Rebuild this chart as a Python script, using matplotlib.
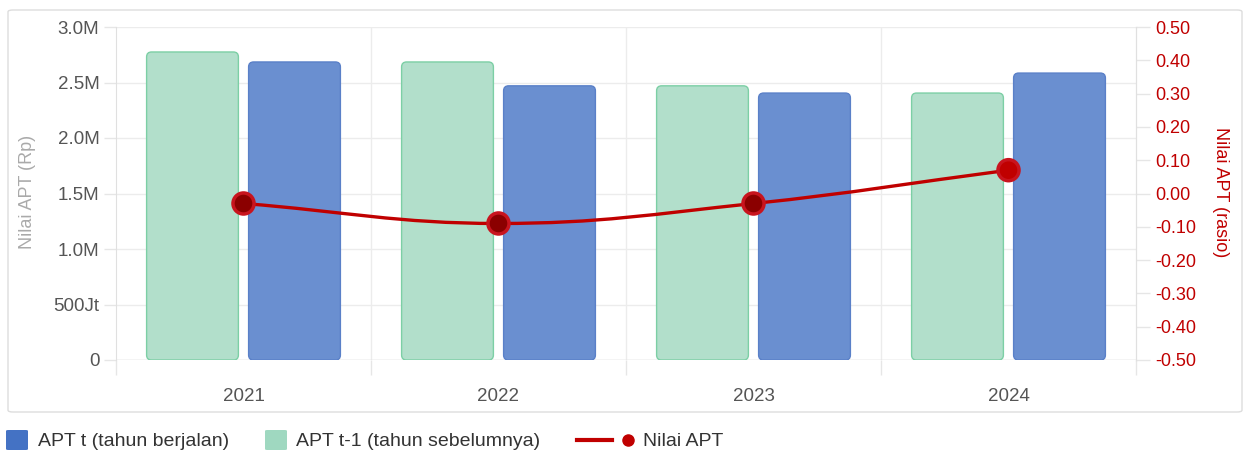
import matplotlib.pyplot as plt
from matplotlib.patches import FancyBboxPatch, PathPatch
from matplotlib.path import Path
from matplotlib.lines import Line2D
import numpy as np

plt.rcParams['font.family'] = ['Liberation Sans', 'DejaVu Sans']

# data
tahun = ['2021', '2022', '2023', '2024']
apt_t = [2.685e6, 2.47e6, 2.405e6, 2.585e6]
apt_t1 = [2.775e6, 2.685e6, 2.47e6, 2.405e6]
nilai_apt = [-0.03, -0.09, -0.03, 0.07]

left_ticks = [0, 0.5e6, 1.0e6, 1.5e6, 2.0e6, 2.5e6, 3.0e6]
left_labels = ['0', '500Jt', '1.0M', '1.5M', '2.0M', '2.5M', '3.0M']
right_ticks = [-0.5, -0.4, -0.3, -0.2, -0.1, 0.0, 0.1, 0.2, 0.3, 0.4, 0.5]

W, H = 1248, 453
fig = plt.figure(figsize=(W / 100, H / 100), dpi=100)

# card border
card = FancyBboxPatch((8 / W, (H - 412) / H), 1234 / W, 402 / H,
                      boxstyle="round,pad=0,rounding_size=0.004",
                      transform=fig.transFigure, facecolor='white',
                      edgecolor='#dddddd', linewidth=1.0, zorder=-5)
fig.patches.append(card)

ax = fig.add_axes([116 / W, (H - 360) / H, 1020 / W, 333 / H])
ax.set_xlim(-0.5, 3.5)
ax.set_ylim(0, 3.0e6)
ax.patch.set_alpha(0)

x = np.arange(len(tahun))
lebar = 0.36
geser = 0.2

# mutation aspect so rounded corners look round in pixels
asp = (3.0e6 / 333) / (4.0 / 1020)
r = 5 / 255.0

def bar_bulat(xc, val, fc, ec):
    p = FancyBboxPatch((xc - lebar / 2, 0), lebar, val,
                       boxstyle="round,pad=0,rounding_size=%f" % r,
                       mutation_aspect=asp, facecolor=fc, edgecolor=ec,
                       linewidth=1.0, zorder=2)
    ax.add_patch(p)

for i in range(len(tahun)):
    bar_bulat(x[i] - geser, apt_t1[i], '#b2dfcb', '#7ccfa5')
    bar_bulat(x[i] + geser, apt_t[i], '#6a8fd0', '#5a80c8')

# axes styling
for s in ['top', 'bottom']:
    ax.spines[s].set_visible(False)
ax.spines['left'].set_color('#e0e0e0')
ax.spines['right'].set_color('#e0e0e0')
ax.axhline(0, color='#d8d8d8', lw=1.0, zorder=1)

ax.set_yticks(left_ticks)
ax.set_yticklabels(left_labels)
ax.tick_params(axis='y', length=9, width=1, color='#e6e6e6', pad=3,
               labelsize=13.5, labelcolor='#555555')
ax.grid(axis='y', color='#ececec', lw=1.0, zorder=0)

ax.set_xticks(x)
ax.set_xticklabels(tahun)
ax.tick_params(axis='x', length=0, pad=20, labelsize=13.5, labelcolor='#555555')
ax.set_xticks([-0.5, 0.5, 1.5, 2.5, 3.5], minor=True)
ax.tick_params(axis='x', which='minor', length=11, color='#e6e6e6', width=1)
for xb in [0.5, 1.5, 2.5]:
    ax.axvline(xb, color='#ececec', lw=1.0, zorder=0)

fig.text(28 / W, 1 - 192 / H, 'Nilai APT (Rp)', color='#aaaaaa', fontsize=13,
         rotation=90, ha='center', va='center')

ax2 = ax.twinx()
ax2.set_ylim(-0.5, 0.5)
ax2.set_yticks(right_ticks)
ax2.set_yticklabels(['%.2f' % v for v in right_ticks])
ax2.tick_params(axis='y', length=10, width=1, color='#e6e6e6', pad=4,
                labelsize=13, labelcolor='#c00000')
for s in ['top', 'bottom', 'left']:
    ax2.spines[s].set_visible(False)
ax2.spines['right'].set_color('#e0e0e0')
fig.text(1221 / W, 1 - 192 / H, 'Nilai APT (rasio)', color='#c00000', fontsize=13,
         rotation=270, ha='center', va='center')

# smooth line (chart.js style tension)
px = x * 255.0
py = np.array(nilai_apt) * 333.0
t = 0.4
verts = [(x[0], nilai_apt[0])]
codes = [Path.MOVETO]
cps = []
n = len(x)
for i in range(n):
    ip = max(i - 1, 0)
    inx = min(i + 1, n - 1)
    d01 = np.hypot(px[i] - px[ip], py[i] - py[ip])
    d12 = np.hypot(px[inx] - px[i], py[inx] - py[i])
    s01 = d01 / (d01 + d12) if d01 + d12 > 0 else 0
    s12 = d12 / (d01 + d12) if d01 + d12 > 0 else 0
    fa = t * s01
    fb = t * s12
    c1 = (px[i] - fa * (px[inx] - px[ip]), py[i] - fa * (py[inx] - py[ip]))
    c2 = (px[i] + fb * (px[inx] - px[ip]), py[i] + fb * (py[inx] - py[ip]))
    cps.append((c1, c2))
for i in range(n - 1):
    a = cps[i][1]
    b = cps[i + 1][0]
    verts += [(a[0] / 255.0, a[1] / 333.0), (b[0] / 255.0, b[1] / 333.0),
              (x[i + 1], nilai_apt[i + 1])]
    codes += [Path.CURVE4] * 3
garis = PathPatch(Path(verts, codes), facecolor='none', edgecolor='#c00000',
                  lw=2.4, zorder=4)
ax2.add_patch(garis)
warna_titik = ['#8b0000' if v < 0 else '#c00000' for v in nilai_apt]
ax2.scatter(x, nilai_apt, s=230, c=warna_titik, edgecolors='#c8141e',
            linewidths=2.5, zorder=5)

# legend, drawn by hand in figure pixels
def fy(ypx):
    return 1 - ypx / H

ly = 440
fs_leg = 14
fig.patches.append(FancyBboxPatch((6 / W, fy(ly + 10)), 22 / W, 20 / H,
                                  boxstyle="round,pad=0,rounding_size=0.002",
                                  transform=fig.transFigure,
                                  facecolor='#4472c4', edgecolor='none'))
fig.text(38 / W, fy(ly + 1), 'APT t (tahun berjalan)', fontsize=fs_leg,
         color='#333333', va='center', ha='left')
fig.patches.append(FancyBboxPatch((265 / W, fy(ly + 10)), 22 / W, 20 / H,
                                  boxstyle="round,pad=0,rounding_size=0.002",
                                  transform=fig.transFigure,
                                  facecolor='#9fd8c0', edgecolor='none'))
fig.text(296 / W, fy(ly + 1), 'APT t-1 (tahun sebelumnya)', fontsize=fs_leg,
         color='#333333', va='center', ha='left')
fig.lines.append(Line2D([577 / W, 612 / W], [fy(ly), fy(ly)], color='#c00000',
                        lw=3, transform=fig.transFigure))
fig.lines.append(Line2D([628 / W], [fy(ly)], color='#c00000', marker='o',
                        markersize=8, transform=fig.transFigure))
fig.text(643 / W, fy(ly + 1), 'Nilai APT', fontsize=fs_leg,
         color='#333333', va='center', ha='left')

fig.savefig('out.png', dpi=100)
